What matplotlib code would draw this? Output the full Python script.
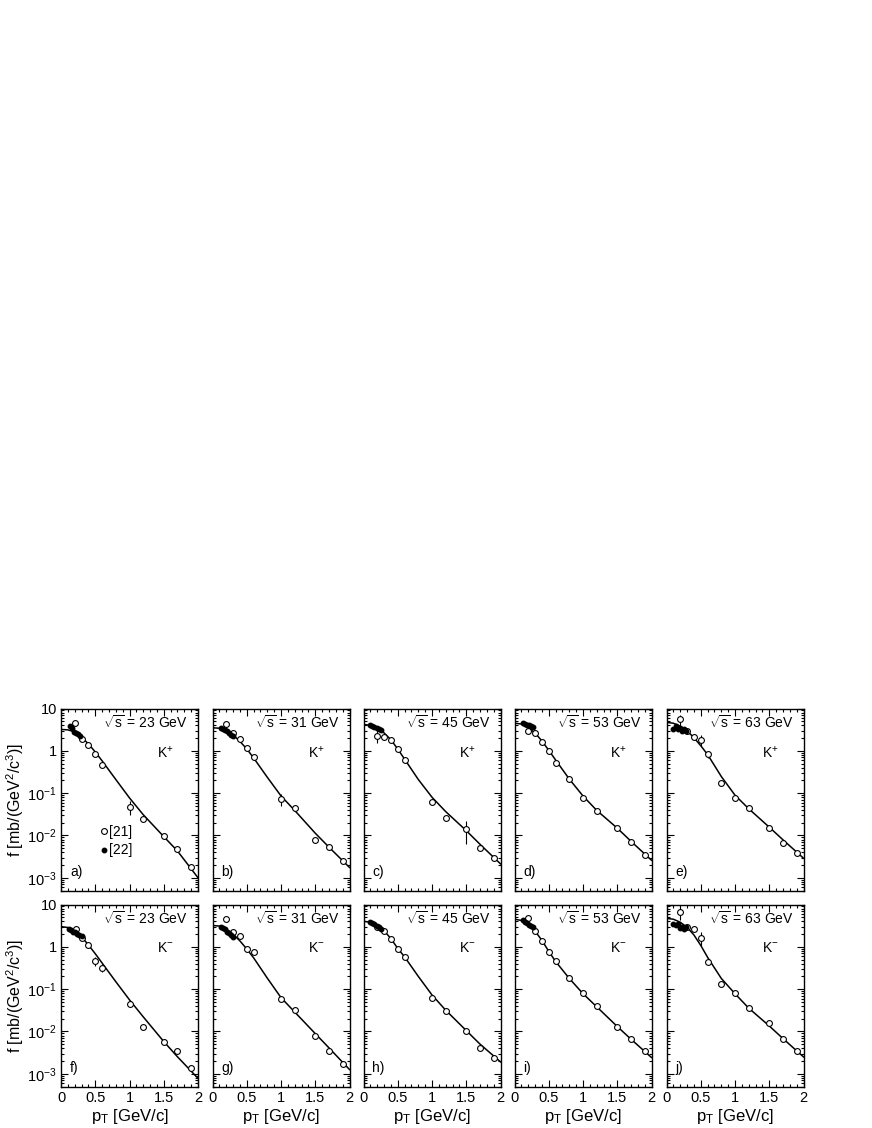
import numpy as np
import matplotlib
matplotlib.use("Agg")
import matplotlib.pyplot as plt
from matplotlib.ticker import FixedLocator, NullFormatter, LogLocator, MultipleLocator

plt.rcParams['font.family'] = ['Liberation Sans', 'DejaVu Sans']
plt.rcParams['mathtext.fontset'] = 'custom'
plt.rcParams['mathtext.rm'] = 'Liberation Sans'
plt.rcParams['mathtext.it'] = 'Liberation Sans'
plt.rcParams['mathtext.sf'] = 'Liberation Sans'

# ---------------- data ----------------
energies = [23, 31, 45, 53, 63, 23, 31, 45, 53, 63]
particles = ["K$^{+}$"] * 5 + ["K$^{-}$"] * 5
letters = ["a)", "b)", "c)", "d)", "e)", "f)", "g)", "h)", "i)", "j)"]

curve_pt = [0.0, 0.1, 0.2, 0.3, 0.4, 0.5, 0.6, 0.8, 1.0, 1.2, 1.5, 1.7, 2.0]
curve_f = [
    [3.2, 3.13, 2.79, 2.11, 1.46, 0.94, 0.58, 0.21, 0.077, 0.031, 0.0094, 0.0043, 0.0010],
    [3.5, 3.42, 2.98, 2.37, 1.67, 1.11, 0.68, 0.237, 0.086, 0.039, 0.0113, 0.0053, 0.00175],
    [4.2, 4.01, 3.41, 2.65, 1.83, 1.10, 0.635, 0.21, 0.08, 0.0366, 0.013, 0.0062, 0.00213],
    [4.5, 4.30, 3.57, 2.65, 1.71, 1.03, 0.607, 0.215, 0.0857, 0.0392, 0.0149, 0.0073, 0.00259],
    [4.7, 4.49, 3.82, 2.96, 2.05, 1.32, 0.817, 0.247, 0.0895, 0.0429, 0.0157, 0.0079, 0.0029],
    [3.0, 2.86, 2.38, 1.73, 1.11, 0.687, 0.414, 0.150, 0.0558, 0.0222, 0.00578, 0.00252, 0.00078],
    [3.2, 3.09, 2.63, 2.0, 1.38, 0.89, 0.55, 0.182, 0.063, 0.0288, 0.0089, 0.0041, 0.00126],
    [4.0, 3.82, 3.18, 2.41, 1.56, 0.916, 0.578, 0.2, 0.0728, 0.0318, 0.0105, 0.00503, 0.00191],
    [4.5, 4.2, 3.33, 2.36, 1.42, 0.782, 0.45, 0.179, 0.0782, 0.0383, 0.0131, 0.00658, 0.00242],
    [4.7, 4.49, 3.82, 2.90, 1.91, 1.08, 0.565, 0.179, 0.078, 0.0356, 0.0135, 0.0068, 0.0025],
]

open_pt = [
    [0.2, 0.3, 0.4, 0.5, 0.6, 1.0, 1.2, 1.5, 1.7, 1.9],
    [0.2, 0.3, 0.4, 0.5, 0.6, 1.0, 1.2, 1.5, 1.7, 1.9],
    [0.2, 0.3, 0.4, 0.5, 0.6, 1.0, 1.2, 1.5, 1.7, 1.9],
    [0.2, 0.3, 0.4, 0.5, 0.6, 0.8, 1.0, 1.2, 1.5, 1.7, 1.9],
    [0.2, 0.3, 0.4, 0.5, 0.6, 0.8, 1.0, 1.2, 1.5, 1.7, 1.9],
    [0.22, 0.3, 0.4, 0.5, 0.6, 1.0, 1.2, 1.5, 1.7, 1.9],
    [0.2, 0.3, 0.4, 0.5, 0.6, 1.0, 1.2, 1.5, 1.7, 1.9],
    [0.2, 0.3, 0.4, 0.5, 0.6, 1.0, 1.2, 1.5, 1.7, 1.9],
    [0.2, 0.3, 0.4, 0.5, 0.6, 0.8, 1.0, 1.2, 1.5, 1.7, 1.9],
    [0.2, 0.3, 0.4, 0.5, 0.6, 0.8, 1.0, 1.2, 1.5, 1.7, 1.9],
]
open_f = [
    [4.5, 1.9, 1.4, 0.85, 0.45, 0.047, 0.024, 0.0095, 0.0048, 0.0018],
    [4.2, 2.7, 1.95, 1.15, 0.7, 0.072, 0.045, 0.008, 0.0054, 0.0025],
    [2.3, 2.1, 1.85, 1.1, 0.6, 0.063, 0.026, 0.014, 0.005, 0.003],
    [2.9, 2.6, 1.65, 0.98, 0.51, 0.21, 0.076, 0.038, 0.015, 0.0071, 0.0035],
    [5.5, 3.0, 2.1, 1.85, 0.83, 0.17, 0.076, 0.044, 0.015, 0.0066, 0.0039],
    [2.6, 1.6, 1.1, 0.46, 0.32, 0.044, 0.013, 0.0057, 0.0034, 0.0014],
    [4.6, 2.2, 1.85, 0.9, 0.74, 0.06, 0.033, 0.008, 0.0035, 0.0017],
    [3.0, 2.4, 1.5, 0.87, 0.59, 0.063, 0.03, 0.0105, 0.004, 0.0024],
    [4.7, 2.4, 1.4, 0.77, 0.45, 0.18, 0.08, 0.04, 0.013, 0.0065, 0.0034],
    [6.5, 2.9, 2.6, 1.65, 0.43, 0.135, 0.08, 0.035, 0.0155, 0.0068, 0.0034],
]
open_relerr = [
    [0.15, 0, 0, 0, 0.15, 0.35, 0, 0, 0, 0],
    [0, 0, 0, 0, 0, 0.3, 0, 0, 0, 0],
    [0.35, 0.1, 0, 0, 0, 0, 0, 0.55, 0, 0],
    [0.1, 0, 0, 0, 0, 0, 0, 0, 0, 0, 0],
    [0.3, 0.15, 0, 0.3, 0.2, 0, 0, 0, 0, 0, 0],
    [0.15, 0.15, 0, 0.25, 0.2, 0, 0, 0, 0.15, 0.1],
    [0, 0, 0, 0, 0.1, 0, 0.15, 0.1, 0, 0],
    [0.1, 0, 0, 0, 0, 0, 0, 0, 0, 0],
    [0, 0, 0, 0, 0, 0, 0, 0, 0, 0, 0],
    [0.35, 0.15, 0, 0.35, 0, 0, 0, 0, 0, 0, 0],
]

filled_pt = [
    [0.13, 0.16, 0.19, 0.22, 0.25, 0.28],
    [0.12, 0.15, 0.18, 0.21, 0.24, 0.27, 0.30],
    [0.10, 0.13, 0.16, 0.19, 0.22, 0.25],
    [0.12, 0.15, 0.18, 0.21, 0.24, 0.27],
    [0.10, 0.14, 0.17, 0.20, 0.23, 0.26, 0.29],
    [0.12, 0.15, 0.18, 0.21, 0.24, 0.27, 0.30],
    [0.12, 0.15, 0.18, 0.21, 0.24, 0.27, 0.30],
    [0.10, 0.13, 0.16, 0.19, 0.22, 0.25],
    [0.12, 0.15, 0.18, 0.21, 0.24, 0.27],
    [0.10, 0.14, 0.17, 0.20, 0.23, 0.26, 0.29],
]
filled_f = [
    [3.8, 3.4, 2.8, 2.6, 2.5, 2.2],
    [3.5, 3.3, 3.1, 2.9, 2.6, 2.4, 2.3],
    [4.1, 3.9, 3.7, 3.5, 3.3, 3.1],
    [4.5, 4.3, 4.1, 4.0, 3.8, 3.6],
    [3.3, 3.9, 3.2, 3.5, 3.0, 3.2, 2.9],
    [2.6, 2.5, 2.3, 2.2, 2.0, 1.9, 1.8],
    [3.0, 2.8, 2.6, 2.3, 2.1, 1.9, 1.7],
    [3.8, 3.6, 3.4, 3.1, 2.9, 2.7],
    [4.2, 3.9, 3.6, 3.3, 3.1, 2.9],
    [3.5, 3.2, 3.4, 2.8, 3.0, 2.7, 2.9],
]

xticks = [0, 0.5, 1, 1.5, 2]
xticklabels = ["0", "0.5", "1", "1.5", "2"]
yticks = [1e-3, 1e-2, 1e-1, 1, 10]
yticklabels = ["10$^{-3}$", "10$^{-2}$", "10$^{-1}$", "1", "10"]

# ---------------- layout ----------------
W, H = 872, 1128
fig = plt.figure(figsize=(W / 100, H / 100), dpi=100)
col_left = [61, 212.5, 363.5, 514.5, 666.5]
ax_w = 137
row_top = [708.5, 904.5]
ax_h = 182

for i in range(10):
    r, c = divmod(i, 5)
    ax = fig.add_axes([col_left[c] / W, (H - row_top[r] - ax_h) / H, ax_w / W, ax_h / H])
    ax.set_yscale('log')
    ax.set_xlim(0, 2)
    ax.set_ylim(5e-4, 10)

    ax.plot(curve_pt, curve_f[i], color='black', lw=1.1, zorder=2)
    of = np.array(open_f[i])
    err = of * np.array(open_relerr[i])
    ax.errorbar(open_pt[i], of, yerr=err, fmt='o', ms=4.2, mfc='white', mec='black',
                mew=0.8, ecolor='black', elinewidth=0.8, capsize=0, zorder=3)
    ax.plot(filled_pt[i], filled_f[i], 'o', ms=3.2, color='black', zorder=4)

    ax.xaxis.set_major_locator(FixedLocator(xticks))
    ax.xaxis.set_minor_locator(MultipleLocator(0.1))
    ax.yaxis.set_major_locator(FixedLocator(yticks))
    ax.yaxis.set_minor_locator(LogLocator(base=10, subs=np.arange(2, 10), numticks=20))
    ax.yaxis.set_minor_formatter(NullFormatter())
    ax.tick_params(which='both', direction='in', top=True, right=True, width=0.8)
    ax.tick_params(which='major', length=5)
    ax.tick_params(which='minor', length=2.5)
    for s in ax.spines.values():
        s.set_linewidth(1.0)

    if r == 1:
        ax.set_xticklabels(xticklabels, fontsize=10.5)
        ax.set_xlabel("p$_{\\rm T}$ [GeV/c]", fontsize=12, labelpad=2)
    else:
        ax.set_xticklabels([])
    if c == 0:
        ax.set_yticklabels(yticklabels, fontsize=10.5)
        ax.set_ylabel("f [mb/(GeV$^2$/c$^3$)]", fontsize=11.5, labelpad=1)
    else:
        ax.set_yticklabels([])
    ax.tick_params(axis='both', which='major', pad=3)

    ax.text(0.31, 0.925, "$\\sqrt{\\rm s}$ = %d GeV" % energies[i], transform=ax.transAxes,
            fontsize=10, ha='left', va='center')
    ax.text(0.76, 0.76, particles[i], transform=ax.transAxes, fontsize=10,
            ha='center', va='center')
    ax.text(0.065, 0.1, letters[i], transform=ax.transAxes, fontsize=10,
            ha='left', va='center')

    if i == 0:
        h1, = ax.plot([], [], 'o', ms=4.2, mfc='white', mec='black', mew=0.8)
        h2, = ax.plot([], [], 'o', ms=3.2, color='black')
        ax.legend([h1, h2], ["[21]", "[22]"], loc='center left',
                  bbox_to_anchor=(0.28, 0.27), frameon=False, fontsize=10,
                  handlelength=0.6, handletextpad=0.1, labelspacing=0.3,
                  borderpad=0, borderaxespad=0)

fig.savefig("out.png", dpi=100)
